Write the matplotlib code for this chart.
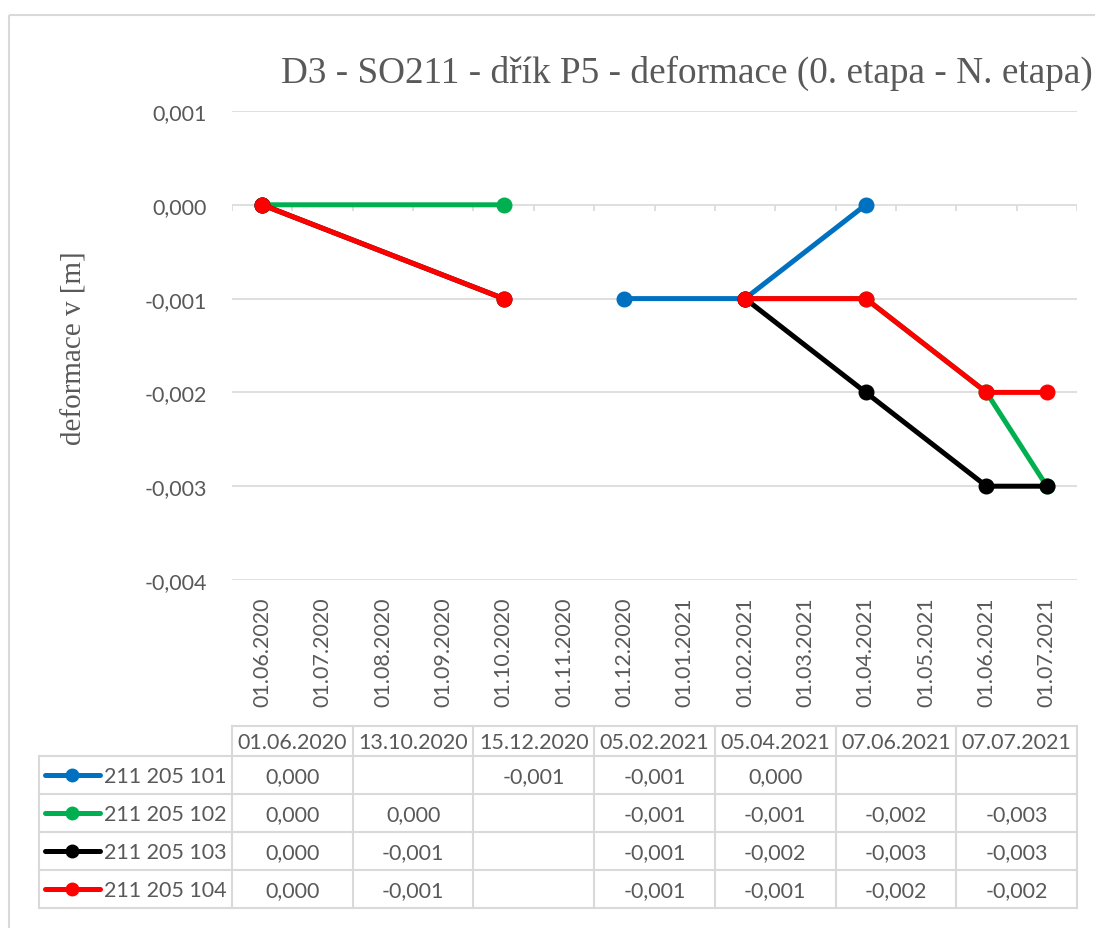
import numpy as np
import matplotlib.pyplot as plt
from datetime import date

# measurement dates (table header) and deformations per point
dates = ["01.06.2020", "13.10.2020", "15.12.2020", "05.02.2021",
         "05.04.2021", "07.06.2021", "07.07.2021"]
names = ["211 205 101", "211 205 102", "211 205 103", "211 205 104"]
colors = ["#0070C0", "#00B050", "#000000", "#FF0000"]
nan = np.nan
p101 = [0.000, nan, -0.001, -0.001, 0.000, nan, nan]
p102 = [0.000, 0.000, nan, -0.001, -0.001, -0.002, -0.003]
p103 = [0.000, -0.001, nan, -0.001, -0.002, -0.003, -0.003]
p104 = [0.000, -0.001, nan, -0.001, -0.001, -0.002, -0.002]
series = [p101, p102, p103, p104]

title = "D3 - SO211 - dřík P5 - deformace (0. etapa - N. etapa)"
ylabel = "deformace v [m]"

gray = "#595959"
grid = "#D9D9D9"
sans = "Lato"
serif = "Liberation Serif"
fs = 15.5


def month_index(s):
    d, m, y = [int(v) for v in s.split(".")]
    return (y - 2020) * 12 + m - 6


def fmt(v):
    return f"{v:.3f}".replace(".", ",").replace("-0,000", "0,000")


x = [month_index(d) for d in dates]
months = np.arange(0, 14)
month_labels = []
for k in months:
    y = 2020 + (5 + k) // 12
    m = (5 + k) % 12 + 1
    month_labels.append(date(y, m, 1).strftime("%d.%m.%Y"))

W, H = 1095, 929
fig = plt.figure(figsize=(W / 100, H / 100), dpi=100)

# background overlay for frame + data table
bg = fig.add_axes([0, 0, 1, 1])
bg.set_xlim(0, W)
bg.set_ylim(H, 0)
bg.axis("off")
bg.add_patch(plt.Rectangle((9, 16), 1200, 1000, fill=False, edgecolor=grid, lw=1.5))

ax = fig.add_axes([232 / W, 1 - 581 / H, (1077 - 232) / W, (581 - 112) / H])
ax.set_facecolor("none")
ax.set_xlim(-0.5, 13.5)
ax.set_ylim(-0.004, 0.001)
yt = np.arange(-0.004, 0.0011, 0.001)
ax.set_yticks(yt)
ax.set_yticklabels([fmt(v) for v in yt])
ax.set_xticks(months)
ax.set_xticklabels(month_labels, rotation=90, va="top", ha="center")
ax.tick_params(axis="y", length=0, pad=18, labelsize=fs, labelcolor=gray)
ax.tick_params(axis="x", length=0, pad=12, labelsize=fs, labelcolor=gray)
for lab in ax.get_xticklabels() + ax.get_yticklabels():
    lab.set_fontfamily(sans)
for s in ax.spines.values():
    s.set_visible(False)
for v in yt:
    ax.axhline(v, color=grid, lw=1.2, zorder=0)
# axis tick marks at month boundaries on the zero line
ax.vlines(np.arange(-0.5, 14), -0.00007, 0, color=grid, lw=1.2, zorder=0)

for vals, c in zip(series, colors):
    ax.plot(x, vals, color=c, lw=3.6, marker="o", ms=10.5, zorder=3, clip_on=False)

fig.text(281 / W, 1 - 83 / H, title, fontsize=26.8, color=gray, family=serif,
         ha="left", va="baseline")
fig.text(75 / W, 1 - 348 / H, ylabel, fontsize=21, color=gray, family=serif,
         rotation=90, ha="center", va="center")

# data table
tl, tr = 232, 1077
lab_l = 39
top, hdr_b = 727, 757
row_h = 38
ncol = len(dates)
cw = (tr - tl) / ncol
rows_b = hdr_b + row_h * len(names)
lw_t = 1.5
bg.plot([tl, tr], [top, top], color=grid, lw=lw_t)
for i in range(len(names) + 1):
    yy = hdr_b + i * row_h
    bg.plot([lab_l, tr], [yy, yy], color=grid, lw=lw_t)
bg.plot([lab_l, lab_l], [hdr_b, rows_b], color=grid, lw=lw_t)
for j in range(ncol + 1):
    xx = tl + j * cw
    bg.plot([xx, xx], [top, rows_b], color=grid, lw=lw_t)
for j, d in enumerate(dates):
    bg.text(tl + (j + 0.5) * cw, (top + hdr_b) / 2 + 1, d, fontsize=fs, color=gray,
            family=sans, ha="center", va="center")
for i, (nm, vals, c) in enumerate(zip(names, series, colors)):
    yc = hdr_b + (i + 0.5) * row_h
    bg.plot([45, 100], [yc, yc], color=c, lw=3.6, solid_capstyle="round")
    bg.plot([72], [yc], marker="o", ms=9, color=c)
    bg.text(104, yc + 1, nm, fontsize=fs, color=gray, family=sans, ha="left", va="center")
    for j, v in enumerate(vals):
        if np.isnan(v):
            continue
        bg.text(tl + (j + 0.5) * cw, yc + 1, fmt(v), fontsize=fs, color=gray,
                family=sans, ha="center", va="center")

fig.savefig("out.png", dpi=100)
